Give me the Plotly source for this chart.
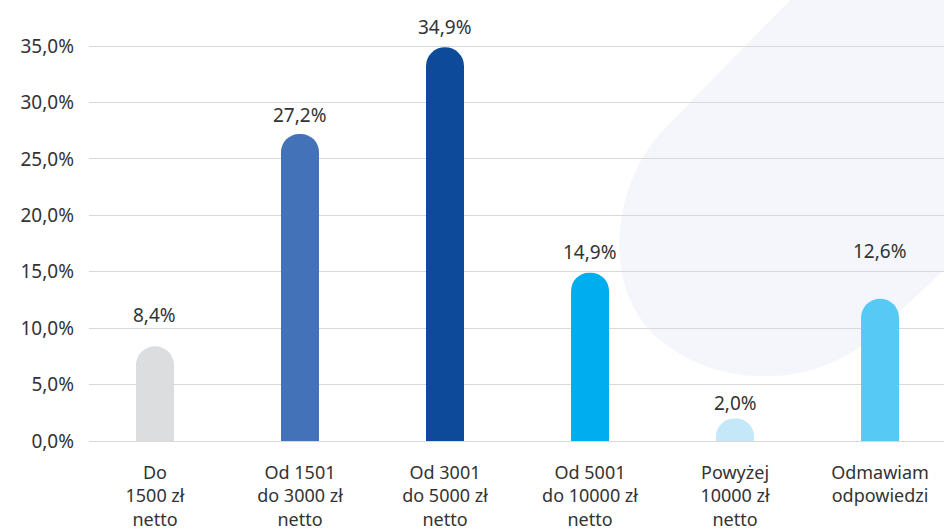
import plotly.graph_objects as go

categories = ["Do<br>1500 zł<br>netto", "Od 1501<br>do 3000 zł<br>netto", "Od 3001<br>do 5000 zł<br>netto",
              "Od 5001<br>do 10000 zł<br>netto", "Powyżej<br>10000 zł<br>netto", "Odmawiam<br>odpowiedzi"]
values = [8.4, 27.2, 34.9, 14.9, 2.0, 12.6]
colors = ["#DCDDDF", "#4472B8", "#0D4A9A", "#00AEEF", "#C5E8F8", "#57C9F5"]
label_shift = [31, 19, 20, 21, 15, 48]
tick_vals = [0, 5, 10, 15, 20, 25, 30, 35]

W, H = 944, 531
ml, mr, mt, mb = 89, 0, 10, 90
pw, ph = W - ml - mr, H - mt - mb

def px(x, y):
    return (x - ml) / pw, (H - mb - y) / ph

blob_pts = [("M", [(795, -5)]), ("L", [(665, 128)]), ("C", [(610, 185), (600, 290), (660, 340)]),
            ("C", [(720, 390), (820, 390), (880, 330)]), ("L", [(960, 255)]), ("L", [(960, -5)])]
path = ""
for cmd, pts in blob_pts:
    path += cmd + " " + " ".join("%.4f,%.4f" % px(x, y) for x, y in pts) + " "
path += "Z"

fig = go.Figure()
fig.add_trace(go.Bar(
    x=list(range(len(categories))), y=values,
    marker=dict(color=colors, cornerradius="50%", line=dict(width=0)),
    width=0.262, hoverinfo="skip",
))

for i, v in enumerate(values):
    fig.add_annotation(x=i, y=v, text=("%.1f%%" % v).replace(".", ","), showarrow=False,
                       yshift=label_shift[i], font=dict(size=19, color="#333333", family="Noto Sans"))

fig.add_shape(type="path", path=path, xref="paper", yref="paper", layer="below",
              fillcolor="#F4F6FB", line=dict(width=0))

fig.update_layout(
    width=W, height=H, margin=dict(l=ml, r=mr, t=mt, b=mb, autoexpand=False),
    paper_bgcolor="white", plot_bgcolor="rgba(0,0,0,0)",
    separators=", ", showlegend=False,
    font=dict(family="Noto Sans", size=19, color="#333333"),
    xaxis=dict(tickmode="array", tickvals=list(range(len(categories))), ticktext=categories,
               range=[-0.455, 5.441], showgrid=False, zeroline=False, showline=False,
               ticks="", ticklabelstandoff=19, tickfont=dict(size=18), automargin=False),
    yaxis=dict(range=[0, ph / (395.0 / 35)], tickvals=tick_vals,
               ticktext=[("%.1f%%" % t).replace(".", ",") for t in tick_vals],
               showgrid=True, gridcolor="#D9D9D9", gridwidth=1.3, zeroline=True,
               zerolinecolor="#D9D9D9", zerolinewidth=1.3, showline=False, ticks="",
               ticklabelstandoff=14, tickfont=dict(size=19), automargin=False),
)

fig.write_html("out.html", config={"displayModeBar": False},
               post_script="document.body.style.margin='0';document.body.style.overflow='hidden';")
